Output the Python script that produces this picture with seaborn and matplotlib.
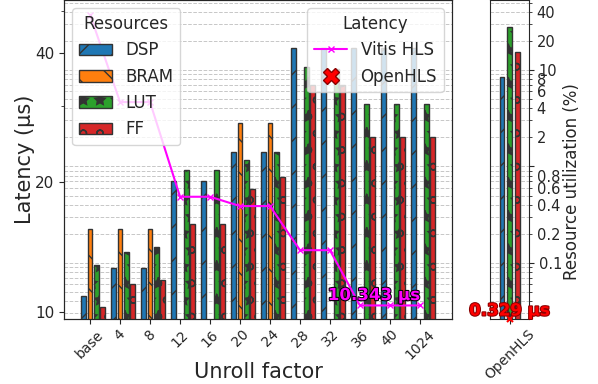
import numpy as np
import matplotlib
matplotlib.use("Agg")
import matplotlib.pyplot as plt
import matplotlib.patheffects as pe
from matplotlib.lines import Line2D
from matplotlib.ticker import FuncFormatter, NullFormatter
import seaborn as sns

# datos
unroll = ["base", "4", "8", "12", "16", "20", "24", "28", "32", "36", "40", "1024"]
resources = ["DSP", "BRAM", "LUT", "FF"]
dsp = [0.045, 0.089, 0.089, 0.71, 0.71, 1.42, 1.42, 17.0, 17.0, 17.0, 17.0, 17.0]
bram = [0.225, 0.225, 0.225, 0, 0, 2.8, 2.8, 0, 0, 0, 0, 0]
lut = [0.095, 0.129, 0.146, 0.91, 0.91, 1.17, 1.40, 10.8, 10.3, 4.44, 4.44, 4.44]
ff = [0.035, 0.061, 0.066, 0.254, 0.254, 0.59, 0.77, 7.0, 7.0, 2.0, 2.0, 2.0]
vitis_latency = [49.0, 30.7, 30.7, 18.5, 18.5, 17.6, 17.6, 13.9, 13.9, 10.343, 10.343, 10.343]

openhls_names = ["DSP", "LUT", "FF"]
openhls_util = [8.5, 28.1, 15.5]
openhls_latency = 0.329

lat_ticks = [10, 20, 40]
util_labels = [0.1, 0.2, 0.4, 0.6, 0.8, 2, 4, 6, 8, 10, 20, 40]

sns.set_style("ticks")
plt.rcParams["font.family"] = ["DejaVu Sans"]

colors = dict(zip(resources, sns.color_palette("tab10", 4)))
hatches = {"DSP": "/", "BRAM": "\\", "LUT": "*", "FF": "o"}
offsets = {"DSP": -0.21, "BRAM": 0.0, "LUT": 0.21, "FF": 0.42}
width = 0.16

fig = plt.figure(figsize=(5.98, 3.84), dpi=100)
ax_bar = fig.add_axes([64 / 598, 1 - 319 / 384, (452 - 64) / 598, 319 / 384])
ax_open = fig.add_axes([490 / 598, 1 - 319 / 384, 39 / 598, 319 / 384])

# barras de recursos (eje de utilizacion)
x = np.arange(len(unroll))
bar_handles = []
for name, vals in zip(resources, [dsp, bram, lut, ff]):
    b = ax_bar.bar(x + offsets[name], vals, width, color=colors[name], hatch=hatches[name],
                   edgecolor="0.2", linewidth=1.0, label=name, zorder=2)
    bar_handles.append(b)
ax_bar.set_yscale("log")
ax_bar.set_ylim(0.0263, 53.1)
ax_bar.set_xlim(-0.87, 12.07)
ax_bar.set_xticks(x)
ax_bar.set_xticklabels(unroll, rotation=45)
ax_bar.tick_params(axis="x", labelsize=10, pad=2.5)
ax_bar.set_xlabel("Unroll factor", fontsize=15)
ax_bar.xaxis.set_label_coords(0.5, -0.135)
ax_bar.grid(True, which="both", axis="y", ls="--", color="0.78", lw=0.7)
ax_bar.set_axisbelow(True)

# latencia Vitis HLS
ax_lat = ax_bar.twinx()
ax_bar.tick_params(axis="y", which="both", left=False, right=False, labelleft=False, labelright=False)
sns.lineplot(x=x, y=vitis_latency, ax=ax_lat, color="magenta", marker="x", markersize=5,
             markeredgecolor="magenta", markeredgewidth=1.0, linewidth=1.5, legend=False)
ax_lat.set_yscale("log")
ax_lat.set_ylim(9.62, 53.0)
ax_lat.yaxis.tick_left()
ax_lat.yaxis.set_label_position("left")
ax_lat.set_yticks(lat_ticks)
ax_lat.set_yticklabels([str(t) for t in lat_ticks], fontsize=11)
ax_lat.set_yticks([30, 50], minor=True)
ax_lat.yaxis.set_minor_formatter(NullFormatter())
ax_lat.set_ylabel("Latency (µs)", fontsize=15)
ax_lat.yaxis.set_label_coords(-0.075, 0.5)
ax_lat.annotate(f"{vitis_latency[-1]} µs", (x[-1], vitis_latency[-1]), xytext=(0, 1),
                textcoords="offset points", ha="right", va="bottom", color="magenta",
                fontweight="bold", fontsize=12,
                path_effects=[pe.withStroke(linewidth=1.5, foreground="black")])

leg1 = ax_lat.legend(bar_handles, resources, title="Resources", loc="upper left",
                     fontsize=12, title_fontsize=12)
ax_lat.add_artist(leg1)
lat_handles = [
    Line2D([], [], color="magenta", marker="x", ms=5, lw=1.5),
    Line2D([], [], ls="none", marker="X", ms=12, mfc="red", mec="darkred"),
]
ax_lat.legend(lat_handles, ["Vitis HLS", "OpenHLS"], title="Latency", loc="upper right",
              fontsize=12, title_fontsize=12)

# panel OpenHLS
open_off = {"DSP": -0.25, "LUT": 0.0, "FF": 0.27}
for name, val in zip(openhls_names, openhls_util):
    ax_open.bar(open_off[name], val, width, color=colors[name], hatch=hatches[name],
                edgecolor="0.2", linewidth=1.0, zorder=2)
ax_open.set_yscale("log")
ax_open.set_ylim(0.0263, 53.1)
ax_open.set_xlim(-0.65, 0.65)
ax_open.set_xticks([0])
ax_open.set_xticklabels(["OpenHLS"], rotation=45)
ax_open.tick_params(axis="x", labelsize=10, pad=2.5)
ax_open.grid(True, which="both", axis="y", ls="--", color="0.78", lw=0.7)
ax_open.set_axisbelow(True)

ax_ol = ax_open.twinx()
ax_ol.plot([0], [openhls_latency], ls="none", marker="x", color="red", ms=5, mew=1.5, clip_on=False)
ax_ol.set_ylim(0.33, 1.0)
ax_ol.set_xlim(-0.65, 0.65)
ax_ol.axis("off")
ax_ol.annotate(f"{openhls_latency} µs", (0, openhls_latency), xytext=(0, 0),
               textcoords="offset points", ha="center", va="bottom", color="red",
               fontweight="bold", fontsize=12, annotation_clip=False,
               path_effects=[pe.withStroke(linewidth=1.5, foreground="darkred")])

# twinx mueve los ticks a la izquierda, se vuelven a poner a la derecha
ax_open.yaxis.tick_right()
ax_open.yaxis.set_label_position("right")
fmt = FuncFormatter(lambda v, _: f"{v:g}" if np.any(np.isclose(v, util_labels)) else "")
ax_open.yaxis.set_major_formatter(fmt)
ax_open.yaxis.set_minor_formatter(fmt)
ax_open.tick_params(axis="y", which="both", labelsize=10.5)
ax_open.set_ylabel("Resource utilization (%)", fontsize=12)
ax_open.yaxis.set_label_coords(1.88, 0.43)

fig.savefig("out.png", dpi=100)
